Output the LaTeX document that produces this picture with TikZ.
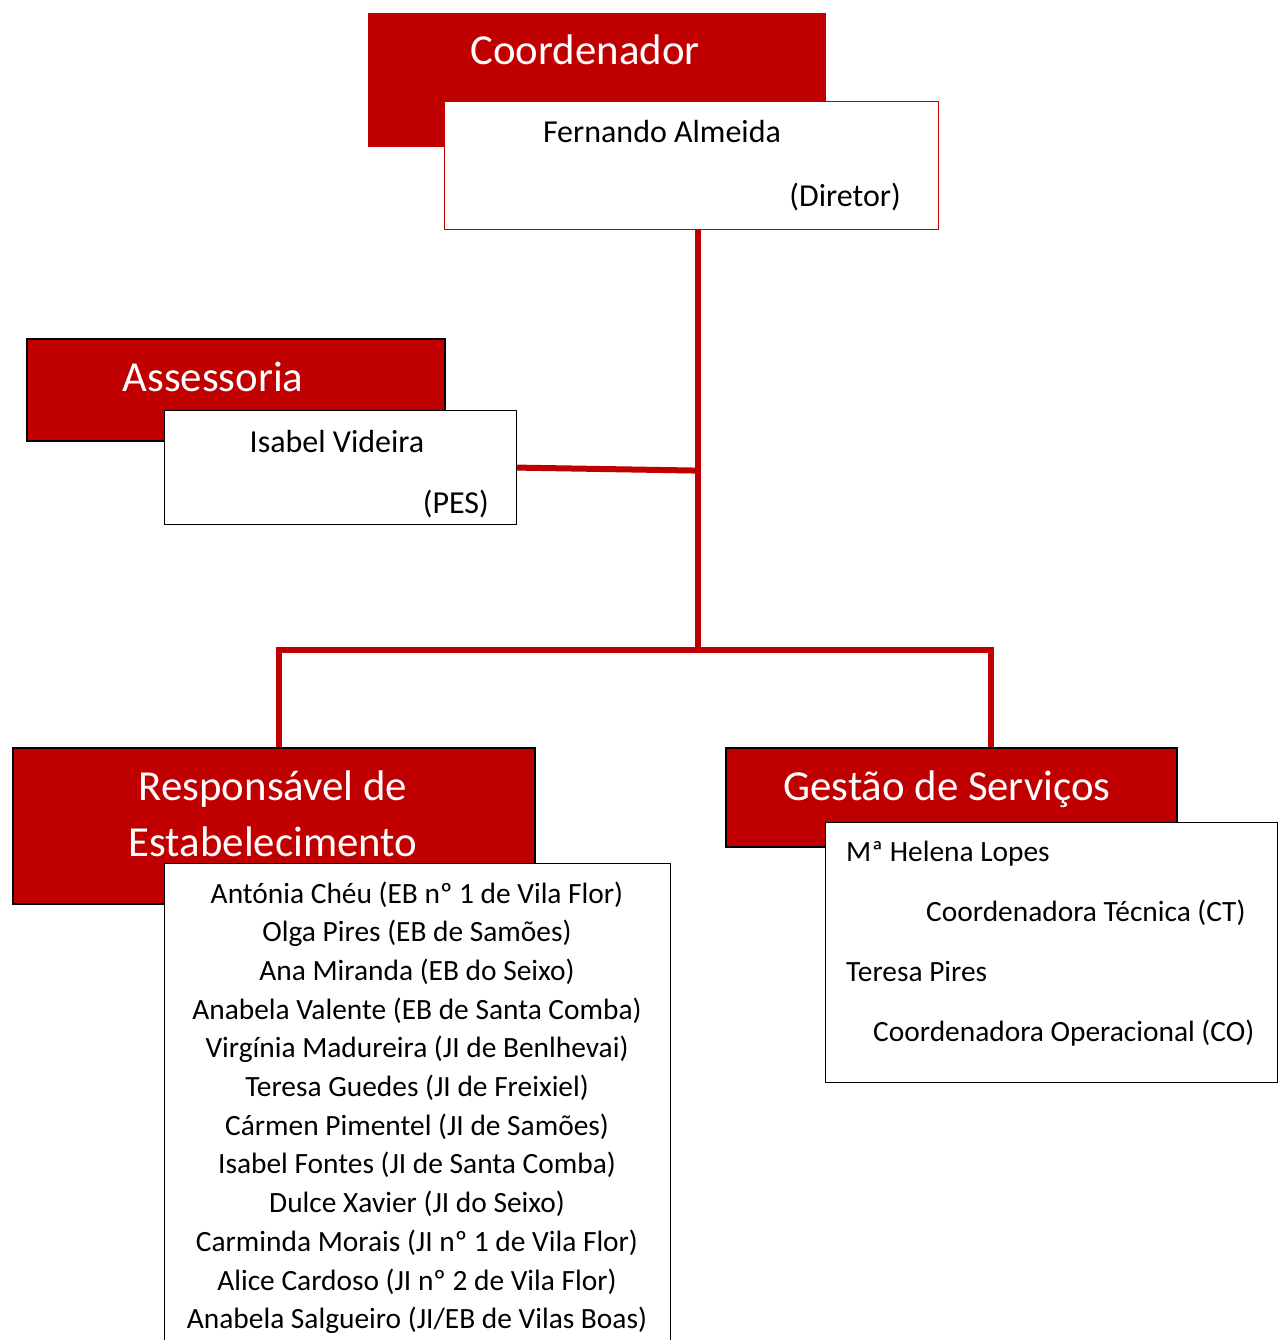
\documentclass[tikz,border=0pt]{standalone}
\usepackage{fontspec}
\setmainfont{Carlito}
\definecolor{orgred}{HTML}{C00000}

\begin{document}
\begin{tikzpicture}[x=1pt,y=-1pt,
		redbox/.style={draw=black,line width=1.5pt,fill=orgred,anchor=north west,inner sep=0pt},
		whitebox/.style={draw=black,line width=1.2pt,fill=white,anchor=north west,inner sep=0pt},
		boxtitle/.style={text=white,inner sep=0pt,anchor=base,font=\fontsize{42.8}{50}\selectfont},
		person/.style={inner sep=0pt,font=\fontsize{32}{38}\selectfont},
		member/.style={inner sep=0pt,font=\fontsize{29.4}{36}\selectfont},
		link/.style={draw=orgred,line width=6pt}]
		\clip (0,0) rectangle (1283,1340);
		
		% coordenador
		\node[redbox,draw=none,minimum width=458pt,minimum height=134pt] (coord) at (367,12) {};
		\node[whitebox,draw=orgred,minimum width=494pt,minimum height=128pt] (dir) at (444,101) {};
		\node[boxtitle] (tcoord) at (585,65) {Coordenador};
		\node[person,anchor=base] (fa) at (662,143) {Fernando Almeida};
		\node[person,anchor=base east] (fad) at (901,207) {(Diretor)};
		
		% assessoria
		\node[redbox,minimum width=418pt,minimum height=102pt] (ass) at (26,338) {};
		\node[whitebox,minimum width=352pt,minimum height=114pt] (ves) at (164,410) {};
		\node[boxtitle] (tass) at (213,391) {Assessoria};
		\node[person,anchor=base] (iv) at (337,452) {Isabel Videira};
		\node[person,anchor=base east] (ivd) at (489,513) {(PES)};
		
		% responsavel de estabelecimento
		\node[redbox,minimum width=522pt,minimum height=156pt] (resp) at (12,747) {};
		\node[whitebox,minimum width=506pt,minimum height=500pt] (lst) at (164,863) {};
		\node[boxtitle] (tresp1) at (273,800) {Responsável de};
		\node[boxtitle] (tresp2) at (273,856) {Estabelecimento};
		\foreach \who [count=\i from 0] in {Antónia Chéu (EB nº 1 de Vila Flor),
			Olga Pires (EB de Samões), Ana Miranda (EB do Seixo),
			Anabela Valente (EB de Santa Comba), Virgínia Madureira (JI de Benlhevai),
			Teresa Guedes (JI de Freixiel), Cármen Pimentel (JI de Samões),
			Isabel Fontes (JI de Santa Comba), Dulce Xavier (JI do Seixo),
			Carminda Morais (JI nº 1 de Vila Flor), Alice Cardoso (JI nº 2 de Vila Flor),
			Anabela Salgueiro (JI/EB de Vilas Boas)}
			\node[member,anchor=base] (re\i) at (417,{903+38.7*\i}) {\who};
		
		% gestao de servicos
		\node[redbox,minimum width=451pt,minimum height=99pt] (gest) at (725,747) {};
		\node[whitebox,minimum width=452pt,minimum height=260pt] (gsv) at (825,822) {};
		\node[boxtitle] (tgest) at (947,800) {Gestão de Serviços};
		\node[member,anchor=base west] (hl) at (846,861) {Mª Helena Lopes};
		\node[member,anchor=base west] (hlc) at (926,921) {Coordenadora Técnica (CT)};
		\node[member,anchor=base west] (tp) at (846,981) {Teresa Pires};
		\node[member,anchor=base west] (tpc) at (873,1041) {Coordenadora Operacional (CO)};
		
		% ligacoes
		\coordinate (jn) at (698,650);
		\draw[link] (dir.south -| jn) -- (jn);
		\draw[link] (ves.east) -- ([yshift=-3pt]ves.east -| jn);
		\draw[link] ([xshift=5pt]resp.north) |- (jn) -| ([xshift=40pt]gest.north);
	\end{tikzpicture}
\end{document}
